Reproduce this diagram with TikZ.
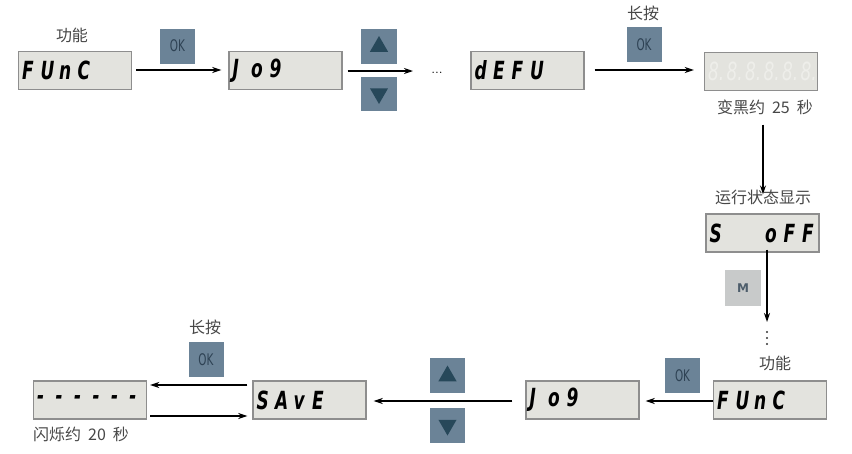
\documentclass[tikz,border=0pt]{standalone}
\usepackage{fontspec}
\usepackage{graphicx}
\usetikzlibrary{arrows.meta,shapes.geometric}
\newfontfamily\cjk{Noto Sans CJK SC}
\newfontfamily\segfont{DejaVu Sans}
\newfontfamily\btnfont{DejaVu Sans}
\definecolor{dispfill}{HTML}{E3E3DE}
\definecolor{displine}{HTML}{8E8E8E}
\definecolor{btnblue}{HTML}{6B8397}
\definecolor{btntext}{HTML}{2E4254}
\definecolor{tridark}{HTML}{27485A}
\definecolor{mfill}{HTML}{C8CACA}
\definecolor{mtext}{HTML}{4D5D6B}
\definecolor{lbl}{HTML}{474747}
\definecolor{ghost}{HTML}{EEEEEA}
\newcommand\sd[1]{\makebox[18.5pt][l]{\scalebox{0.68}[1]{#1}}}
\newcommand\segtext[1]{\makebox[106pt][l]{\segfont\bfseries\itshape\fontsize{25}{27}\selectfont #1}}
\begin{document}
\begin{tikzpicture}[x=1pt,y=-1pt,
  disp/.style={draw=displine, fill=dispfill, line width=1.4pt, minimum width=113pt, minimum height=38pt, inner sep=0pt},
  okbtn/.style={fill=btnblue, minimum width=35pt, minimum height=35pt, inner sep=0pt, text=btntext, font=\btnfont\fontsize{16}{16}\selectfont},
  mbtn/.style={fill=mfill, minimum width=36pt, minimum height=36pt, inner sep=0pt, text=mtext, font=\btnfont\bfseries\fontsize{12}{12}\selectfont},
  tri/.style={regular polygon, regular polygon sides=3, fill=tridark, minimum size=21pt, inner sep=0pt},
  lab/.style={text=lbl, font=\cjk\fontsize{16}{18}\selectfont, inner sep=0pt},
  dot/.style={circle, fill=black!80, minimum size=2.2pt, inner sep=0pt},
  arr/.style={-{Stealth[length=9pt,width=6pt]}, line width=1.4pt}]
\useasboundingbox (0,0) rectangle (852,453);

% ---- top row ----
\node[lab] (lfunc1) at (72,35) {功能};
\node[disp] (funcT) at (75,70.5) {\segtext{\sd{F}\sd{U}\sd{n}\sd{C}}};
\node[okbtn] (ok1) at (177.5,46) {\scalebox{0.65}[1]{OK}};
\node[disp] (jogT) at (285.5,70.5) {\segtext{\sd{J}\sd{o}\sd{9}}};
\node[fill=btnblue, minimum width=36pt, minimum height=35pt] (upT) at (379,46) {};
\node[tri] (upTtri) at (379,46.5) {};
\node[fill=btnblue, minimum width=36pt, minimum height=34pt] (downT) at (379,94) {};
\node[tri, shape border rotate=180] (downTtri) at (379,93.5) {};
\node[inner sep=0pt, font=\fontsize{14}{14}\selectfont] (ell) at (437,73) {...};
\coordinate (ellw) at (413,71);
\node[disp] (defu) at (527.5,70.5) {\segtext{\sd{d}\sd{E}\sd{F}\sd{U}}};
\node[lab] (lpress1) at (643,13) {长按};
\node[okbtn] (ok2) at (644,44.5) {\scalebox{0.65}[1]{OK}};
\node[disp] (blank) at (761,71.5) {\segtext{\mdseries\textcolor{ghost}{\sd{8.}\sd{8.}\sd{8.}\sd{8.}\sd{8.}\sd{8.}}}};
\node[lab] (ldark) at (765,107) {变黑约\hspace{7pt}25\hspace{7pt}秒};

\draw[arr] ([xshift=4pt]funcT.east |- 0,70) -- ([xshift=-7pt]jogT.west |- 0,70);
\draw[arr] ([xshift=5pt]jogT.east |- 0,71) -- (ellw);
\draw[arr] ([xshift=10pt]defu.east |- 0,70) -- ([xshift=-10pt]blank.west |- 0,70);

% ---- right column ----
\node[lab] (lstatus) at (763,197) {运行状态显示};
\node[disp] (soff) at (762.5,233) {\segtext{\sd{S}\sd{}\sd{}\sd{o}\sd{F}\sd{F}}};
\node[mbtn] (mb) at (743,288) {M};
\node[dot] (d1) at (767,332) {};
\node[dot] (d2) at (767,338) {};
\node[dot] (d3) at (767,344) {};
\coordinate (mend) at (767,322);
\node[lab] (lfunc2) at (775,363) {功能};
\draw[arr] ([yshift=-10pt]ldark.south -| 763,0) -- ([yshift=-5pt]lstatus.north -| 763,0);
\draw[arr] ([yshift=3pt]soff.south -| 767,0) -- (mend);

% ---- bottom row ----
\node[disp] (funcB) at (770,400) {\segtext{\sd{F}\sd{U}\sd{n}\sd{C}}};
\node[okbtn] (ok3) at (682.5,375.5) {\scalebox{0.65}[1]{OK}};
\node[disp] (jogB) at (582.5,400) {\segtext{\sd{J}\sd{o}\sd{9}}};
\node[fill=btnblue, minimum width=35pt, minimum height=35pt] (upB) at (447.5,375.5) {};
\node[tri] (upBtri) at (447.5,376) {};
\node[fill=btnblue, minimum width=35pt, minimum height=35pt] (downB) at (447.5,425.5) {};
\node[tri, shape border rotate=180] (downBtri) at (447.5,425) {};
\node[disp] (save) at (309.5,400) {\segtext{\sd{S}\sd{A}\sd{v}\sd{E}}};
\node[lab] (lpress2) at (205,327) {长按};
\node[okbtn] (ok4) at (206,359.5) {\scalebox{0.65}[1]{OK}};
\node[disp] (dash) at (90,400) {\segtext{\sd{-}\sd{-}\sd{-}\sd{-}\sd{-}\sd{-}}};
\node[lab, anchor=west] (lflash) at (33,434) {闪烁约\hspace{7pt}20\hspace{7pt}秒};

\draw[arr] (funcB.west |- 0,401) -- ([xshift=6pt]jogB.east |- 0,401);
\draw[arr] ([xshift=-13pt]jogB.west |- 0,401) -- ([xshift=7pt]save.east |- 0,401);
\draw[arr] ([xshift=-5pt]save.west |- 0,385) -- ([xshift=3pt]dash.east |- 0,385);
\draw[arr] ([xshift=3pt]dash.east |- 0,416) -- ([xshift=-5pt]save.west |- 0,416);
\end{tikzpicture}
\end{document}
